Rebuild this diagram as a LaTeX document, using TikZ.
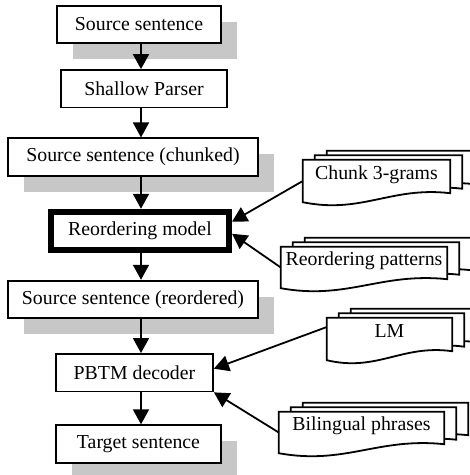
\documentclass[tikz,border=0pt]{standalone}
\usepackage{fontspec}
\setmainfont{Liberation Serif}
\usetikzlibrary{shapes,arrows.meta,positioning,shadows,calc,backgrounds}

\begin{document}
\begin{tikzpicture}[
    x=1pt,y=1pt,
    >={Triangle[length=15pt,width=16pt]},
    font=\fontsize{19.8}{23}\selectfont,
    box/.style={rectangle,draw,line width=1.8pt,fill=white,minimum height=37.5pt,inner xsep=2pt,inner ysep=0pt},
    shade/.style={drop shadow={shadow xshift=16pt,shadow yshift=-16pt,fill=black!22,opacity=1}},
    doc/.style={rectangle,inner xsep=1pt,inner ysep=0pt,text height=12pt,text depth=16pt},
    docline/.style={draw,fill=white,line width=1.8pt},
    arr/.style={->,line width=1.8pt}]
    \useasboundingbox (0,0) rectangle (470,-475);
    \clip (0,0) rectangle (470,-475);
    \coordinate (axis) at (141,0);

    % main chain
    \node[box,shade,minimum width=164pt] (src) at (139,-24.5) {Source sentence};
    \node[box,minimum width=166pt] (parser) [below=25pt of src,xshift=5pt] {Shallow Parser};
    \node[box,shade,minimum width=250pt] (chunked) [below=29pt of parser,xshift=-11pt] {Source sentence (chunked)};
    \node[box,line width=6pt,minimum width=178pt,minimum height=38pt] (reorder) [below=32pt of chunked,xshift=7pt] {Reordering model};
    \node[box,shade,minimum width=250pt] (reordered) [below=27pt of reorder,xshift=-7pt] {Source sentence (reordered)};
    \node[box,minimum width=157pt] (pbtm) [below=34pt of reordered,xshift=1.5pt] {PBTM decoder};
    \node[box,shade,minimum width=165pt] (target) [below=32pt of pbtm,xshift=4pt] {Target sentence};

    % resources
    \node[doc,minimum width=147pt,minimum height=42pt] (chunk) at (376.5,-181) {Chunk 3-grams};
    \node[doc,minimum width=166pt,minimum height=41pt] (patterns) at (364,-267.5) {Reordering patterns};
    \node[doc,minimum width=125pt,minimum height=42pt] (LM) at (389.5,-339) {LM};
    \node[doc,minimum width=165pt,minimum height=41pt] (bilingual) at (361.5,-432.5) {Bilingual phrases};

    % stacked pages with wavy bottom
    \begin{scope}[on background layer]
      \foreach \d in {chunk,patterns,LM,bilingual}
        \foreach \s in {2,1,0}
          \draw[docline,transform canvas={shift={(\s*12,\s*4.5)}}]
            (\d.north west) -- (\d.north east) -- ($(\d.south east)+(0,9)$)
            .. controls ($(\d.south west)!0.6!(\d.south east)+(0,16)$) and ($(\d.south west)!0.4!(\d.south east)+(0,-12)$) .. (\d.south west) -- cycle;
    \end{scope}

    \draw[arr] (src.south -| axis) -- (parser.north -| axis);
    \draw[arr] (parser.south -| axis) -- (chunked.north -| axis);
    \draw[arr] (chunked.south -| axis) -- (reorder.north -| axis);
    \draw[arr] (reorder.south -| axis) -- (reordered.north -| axis);
    \draw[arr] (reordered.south -| axis) -- (pbtm.north -| axis);
    \draw[arr] (pbtm.south -| axis) -- (target.north -| axis);

    \draw[arr] (chunk.west) -- ([yshift=9pt]reorder.east);
    \draw[arr] (patterns.west) -- ([yshift=-3pt]reorder.east);
    \draw[arr] ([yshift=12pt]LM.west) -- ([yshift=4pt]pbtm.east);
    \draw[arr] (bilingual.west) -- (pbtm.south east);
\end{tikzpicture}
\end{document}
